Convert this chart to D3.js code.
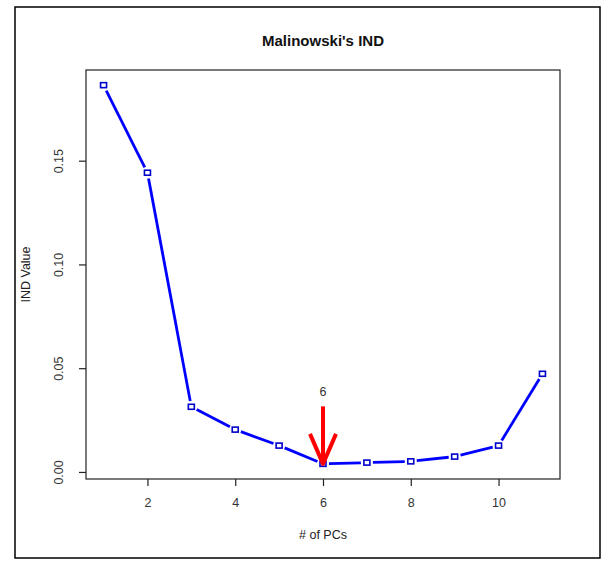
<!DOCTYPE html>
<html>
<head>
<meta charset="utf-8">
<script src="https://cdn.jsdelivr.net/npm/d3@7"></script>
<style>
  html, body { margin: 0; padding: 0; background: #fff; }
  text { font-family: "Liberation Sans", Arial, sans-serif; }
</style>
</head>
<body>
<svg id="chart" width="608" height="569"></svg>
<script>
const pcs = [1, 2, 3, 4, 5, 6, 7, 8, 9, 10, 11];
const indValues = [0.1864, 0.1442, 0.0314, 0.0204, 0.0127, 0.0039, 0.0045, 0.0051, 0.0074, 0.0127, 0.0473];
const xTicks = [2, 4, 6, 8, 10];
const yTicks = [0.00, 0.05, 0.10, 0.15];
const yTickLabels = ["0.00", "0.05", "0.10", "0.15"];
const chosenPC = 6;
const arrowTop = 0.0316;
const title = "Malinowski's IND";
const xLabel = "# of PCs";
const yLabel = "IND Value";

const svg = d3.select("#chart");
const plot = { left: 86, right: 560, top: 70, bottom: 479 };

// outer frame
svg.append("rect").attr("x", 15).attr("y", 7).attr("width", 585).attr("height", 551)
  .attr("fill", "none").attr("stroke", "#000").attr("stroke-width", 1.5);

// R-style 4% extension
const xmin = d3.min(pcs), xmax = d3.max(pcs);
const xpad = (xmax - xmin) * 0.04;
const ymin = d3.min(indValues), ymax = d3.max(indValues);
const ypad = (ymax - ymin) * 0.04;
const x = d3.scaleLinear().domain([xmin - xpad, xmax + xpad]).range([plot.left, plot.right]);
const y = d3.scaleLinear().domain([ymin - ypad, ymax + ypad]).range([plot.bottom, plot.top]);

// plot box
svg.append("rect").attr("x", plot.left).attr("y", plot.top)
  .attr("width", plot.right - plot.left).attr("height", plot.bottom - plot.top)
  .attr("fill", "none").attr("stroke", "#222").attr("stroke-width", 1.2);

// axes
const xAxis = d3.axisBottom(x).tickValues(xTicks).tickSize(7).tickSizeOuter(0).tickPadding(12).tickFormat(d3.format("d"));
const gx = svg.append("g").attr("transform", `translate(0,${plot.bottom})`).call(xAxis);
gx.select(".domain").remove();
gx.selectAll("line").attr("stroke", "#222").attr("stroke-width", 1.2);
gx.selectAll("text").attr("font-size", 12.5).attr("fill", "#333");

const yAxis = d3.axisLeft(y).tickValues(yTicks).tickSize(7).tickSizeOuter(0).tickFormat((d, i) => yTickLabels[i]);
const gy = svg.append("g").attr("transform", `translate(${plot.left},0)`).call(yAxis);
gy.select(".domain").remove();
gy.selectAll("line").attr("stroke", "#222").attr("stroke-width", 1.2);
gy.selectAll("text")
  .attr("font-size", 12.5).attr("fill", "#333")
  .attr("x", null).attr("dy", null)
  .attr("text-anchor", "middle")
  .attr("transform", "translate(-27,0) rotate(-90)")
  .attr("y", 4);

// titles
svg.append("text").attr("x", (plot.left + plot.right) / 2).attr("y", 46)
  .attr("text-anchor", "middle").attr("font-size", 15).attr("font-weight", "bold")
  .attr("fill", "#111").text(title);
svg.append("text").attr("x", (plot.left + plot.right) / 2).attr("y", 539)
  .attr("text-anchor", "middle").attr("font-size", 12.5).attr("fill", "#222").text(xLabel);
svg.append("text")
  .attr("transform", `translate(${30},${(plot.top + plot.bottom) / 2}) rotate(-90)`)
  .attr("text-anchor", "middle").attr("font-size", 12.5).attr("fill", "#222").text(yLabel);

// line with gaps around points (type = "b")
const pts = pcs.map((p, i) => [x(p), y(indValues[i])]);
const gap = 6;
const segs = [];
for (let i = 0; i < pts.length - 1; i++) {
  const [x0, y0] = pts[i], [x1, y1] = pts[i + 1];
  const len = Math.hypot(x1 - x0, y1 - y0);
  if (len <= 2 * gap) continue;
  const ux = (x1 - x0) / len, uy = (y1 - y0) / len;
  segs.push([x0 + ux * gap, y0 + uy * gap, x1 - ux * gap, y1 - uy * gap]);
}
svg.append("g").selectAll("line").data(segs).join("line")
  .attr("x1", d => d[0]).attr("y1", d => d[1]).attr("x2", d => d[2]).attr("y2", d => d[3])
  .attr("stroke", "#0000ff").attr("stroke-width", 2.8);

svg.append("g").selectAll("rect").data(pts).join("rect")
  .attr("x", d => d[0] - 3).attr("y", d => d[1] - 2.5)
  .attr("width", 6).attr("height", 5)
  .attr("fill", "none").attr("stroke", "#0000cc").attr("stroke-width", 1.6);

// arrow marking chosen PC
const ax = x(chosenPC);
const ay0 = y(arrowTop);
const ay1 = y(indValues[pcs.indexOf(chosenPC)]);
svg.append("line").attr("x1", ax).attr("y1", ay0).attr("x2", ax).attr("y2", ay1 - 2)
  .attr("stroke", "#ff0000").attr("stroke-width", 4);
svg.append("path")
  .attr("d", `M${ax - 13},${ay1 - 30} L${ax},${ay1} L${ax + 13},${ay1 - 30}`)
  .attr("fill", "none").attr("stroke", "#ff0000").attr("stroke-width", 4)
  .attr("stroke-linejoin", "round").attr("stroke-linecap", "butt");
svg.append("text").attr("x", ax).attr("y", ay0 - 10)
  .attr("text-anchor", "middle").attr("font-size", 12.5).attr("fill", "#333").text(String(chosenPC));
</script>
</body>
</html>
